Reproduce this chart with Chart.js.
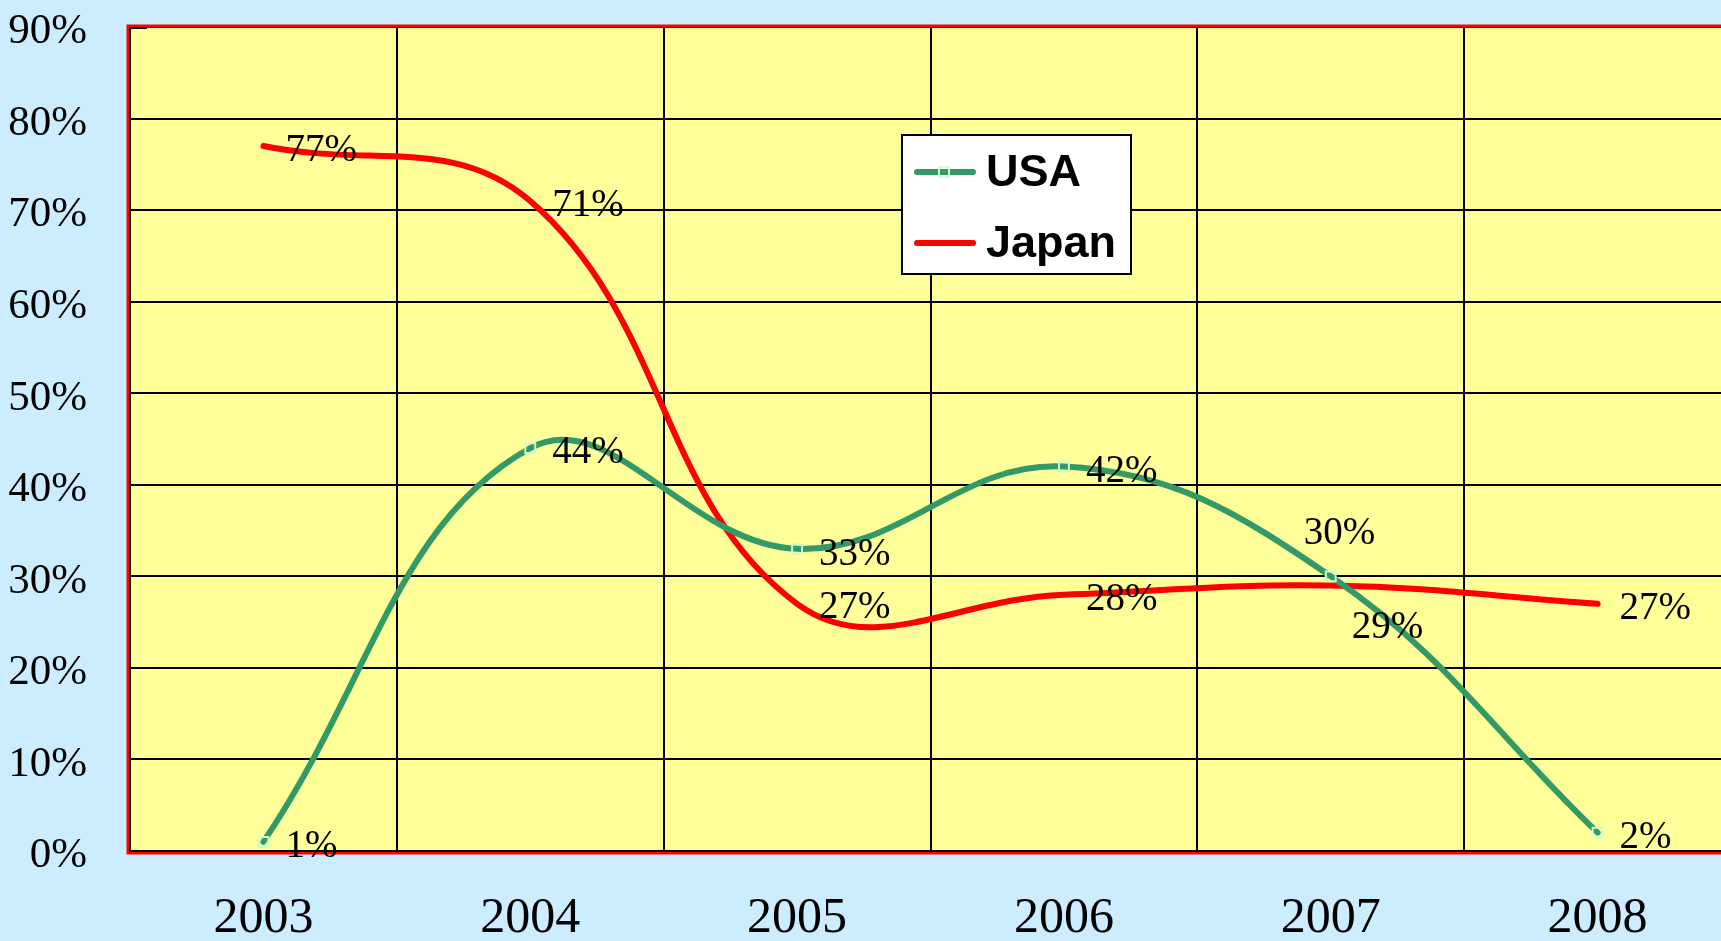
<!DOCTYPE html>
<html lang="en">
  <head>
    <meta charset="UTF-8" />
    <title>USA / Japan</title>
    <script src="https://cdn.jsdelivr.net/npm/chart.js"></script>
    <style>
      html, body { margin: 0; padding: 0; overflow: hidden; background: #ccecff; }
      #wrap { width: 1740px; height: 941px; }
    </style>
  </head>
  <body>
    <div id="wrap"><canvas id="grafica"></canvas></div>
    <script>
      // datos
      const years = ["2003", "2004", "2005", "2006", "2007", "2008"];
      const usa = [1, 44, 33, 42, 30, 2];
      const japan = [77, 71, 27, 28, 29, 27];
      const yTicks = [0, 10, 20, 30, 40, 50, 60, 70, 80, 90];

      // desplazamiento de cada etiqueta respecto a su punto
      const labelOffsets = {
        USA: [[22, 5], [22, 5], [22, 6], [22, 5], [-27, -43], [22, 5]],
        Japan: [[22, 5], [22, 5], [22, 4], [22, 5], [21, 42], [22, 5]],
      };

      const plotBackground = {
        id: "plotBackground",
        beforeDraw(chart) {
          const { ctx, chartArea: a } = chart;
          ctx.save();
          ctx.fillStyle = "#ffff99";
          ctx.fillRect(a.left, a.top, a.right - a.left, a.bottom - a.top);
          ctx.restore();
        },
        beforeDatasetsDraw(chart) {
          const { ctx, chartArea: a } = chart;
          ctx.save();
          ctx.strokeStyle = "#ff0000";
          ctx.lineWidth = 3;
          ctx.strokeRect(a.left - 2, a.top - 1, a.right - a.left + 4, a.bottom - a.top + 3);
          ctx.strokeStyle = "#000";
          ctx.lineWidth = 2;
          ctx.beginPath();
          ctx.moveTo(a.left, a.top);
          ctx.lineTo(a.left, a.bottom);
          ctx.lineTo(a.right, a.bottom);
          ctx.moveTo(a.left, a.top + 1);
          ctx.lineTo(a.left + 17, a.top + 1);
          ctx.stroke();
          ctx.restore();
        },
      };

      const pointLabels = {
        id: "pointLabels",
        afterDatasetsDraw(chart) {
          const ctx = chart.ctx;
          ctx.save();
          ctx.font = "39px 'Liberation Serif'";
          ctx.fillStyle = "#000";
          ctx.textAlign = "left";
          ctx.textBaseline = "middle";
          chart.data.datasets.forEach(function (ds, i) {
            const meta = chart.getDatasetMeta(i);
            meta.data.forEach(function (pt, j) {
              const off = labelOffsets[ds.label][j];
              ctx.fillText(ds.data[j] + "%", pt.x + off[0], pt.y + off[1]);
            });
          });
          ctx.restore();
        },
      };

      const boxLegend = {
        id: "boxLegend",
        afterDraw(chart) {
          const ctx = chart.ctx;
          const x = 902, y = 135, w = 229, h = 139;
          ctx.save();
          ctx.fillStyle = "#fff";
          ctx.fillRect(x, y, w, h);
          ctx.strokeStyle = "#000";
          ctx.lineWidth = 2;
          ctx.strokeRect(x, y, w, h);
          const rows = [172, 243];
          chart.data.datasets.forEach(function (ds, i) {
            const ly = rows[i];
            ctx.strokeStyle = ds.borderColor;
            ctx.lineWidth = 6;
            ctx.lineCap = "round";
            ctx.beginPath();
            ctx.moveTo(917, ly);
            ctx.lineTo(973, ly);
            ctx.stroke();
            if (ds.pointRadius > 0) {
              ctx.strokeStyle = ds.pointBorderColor;
              ctx.lineWidth = 2;
              ctx.strokeRect(939, ly - 5, 10, 10);
            }
            ctx.fillStyle = "#000";
            ctx.font = "bold 45px 'Liberation Sans'";
            ctx.textAlign = "left";
            ctx.textBaseline = "middle";
            ctx.fillText(ds.label, 986, ly + 2);
          });
          ctx.restore();
        },
      };

      const ctx = document.getElementById("grafica").getContext("2d");
      new Chart(ctx, {
        type: "line",
        data: {
          labels: years,
          datasets: [
            {
              label: "USA",
              data: usa,
              borderColor: "#339966",
              borderWidth: 6,
              borderCapStyle: "round",
              tension: 0.4,
              fill: false,
              pointStyle: "rect",
              pointRadius: 7,
              pointBorderWidth: 2,
              pointBorderColor: "#ccffcc",
              pointBackgroundColor: "rgba(0,0,0,0)",
            },
            {
              label: "Japan",
              data: japan,
              borderColor: "#ff0000",
              borderWidth: 6,
              borderCapStyle: "round",
              tension: 0.4,
              fill: false,
              pointRadius: 0,
            },
          ],
        },
        options: {
          responsive: true,
          maintainAspectRatio: false,
          animation: false,
          layout: { padding: { top: 27, right: 6, left: 0, bottom: 0 } },
          scales: {
            x: {
              offset: true,
              afterFit: function (s) {
                s.height = 90;
                s.paddingLeft = 0;
                s.paddingRight = 0;
              },
              grid: { offset: true, color: "#000", lineWidth: 2, drawTicks: false },
              border: { display: false },
              ticks: {
                color: "#000",
                padding: 38,
                maxRotation: 0,
                font: { family: "'Liberation Serif'", size: 50 },
              },
            },
            y: {
              min: 0,
              max: 90,
              afterFit: function (s) {
                s.width = 130;
                s.paddingTop = 0;
                s.paddingBottom = 0;
              },
              afterBuildTicks: function (s) {
                s.ticks = yTicks.map(function (v) { return { value: v }; });
              },
              grid: { color: "#000", lineWidth: 2, drawTicks: false },
              border: { display: false },
              ticks: {
                color: "#000",
                padding: 43,
                labelOffset: 5,
                callback: function (v) { return v + "%"; },
                font: { family: "'Liberation Serif'", size: 43 },
              },
            },
          },
          plugins: {
            legend: { display: false },
            tooltip: { enabled: false },
          },
        },
        plugins: [plotBackground, pointLabels, boxLegend],
      });
    </script>
  </body>
</html>
